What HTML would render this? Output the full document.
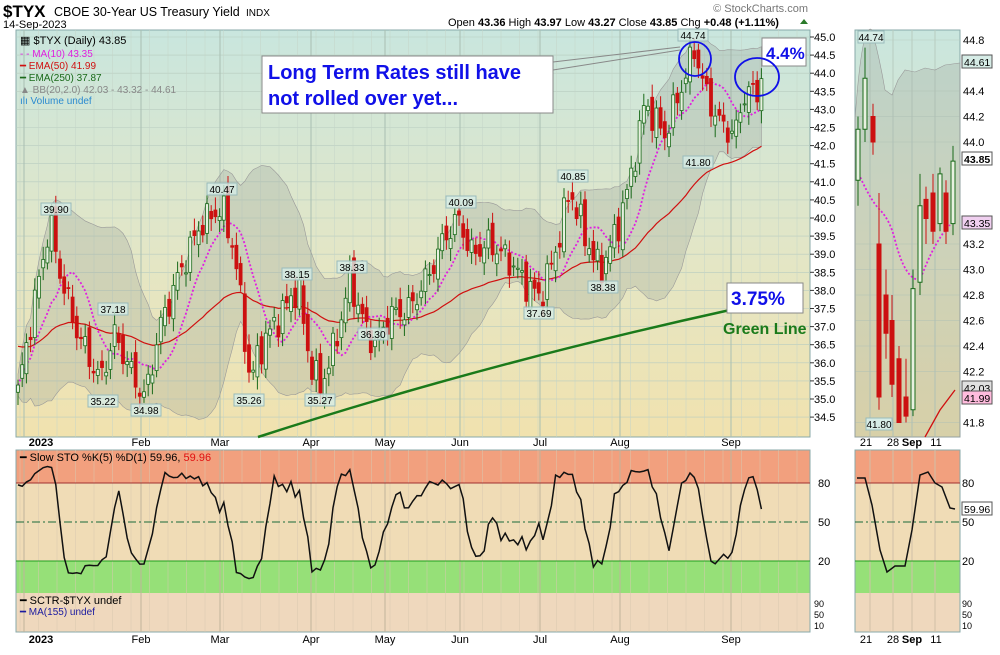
<!DOCTYPE html>
<html><head><meta charset="utf-8"><style>
body{margin:0;background:#fff;width:1000px;height:650px;overflow:hidden;font-family:"Liberation Sans",sans-serif}
svg text{font-family:"Liberation Sans",sans-serif}
</style></head><body>
<svg id="s" width="1000" height="650" xmlns="http://www.w3.org/2000/svg">
<defs>
<linearGradient id="bg" x1="0" y1="0" x2="0" y2="1"><stop offset="0" stop-color="#c9e6de"/><stop offset="0.55" stop-color="#e3e6c6"/><stop offset="1" stop-color="#f1e2ae"/></linearGradient>
</defs>
<text x="3" y="17" font-size="17" font-weight="bold">$TYX</text>
<text x="54" y="16" font-size="12.5">CBOE 30-Year US Treasury Yield</text>
<text x="246" y="16" font-size="10">INDX</text>
<text x="3" y="28" font-size="11">14-Sep-2023</text>
<text x="808" y="12" font-size="11" fill="#777" text-anchor="end">© StockCharts.com</text>
<text x="448" y="26" font-size="11">Open <tspan font-weight="bold">43.36</tspan>  High <tspan font-weight="bold">43.97</tspan>  Low <tspan font-weight="bold">43.27</tspan>  Close <tspan font-weight="bold">43.85</tspan>  Chg <tspan font-weight="bold">+0.48 (+1.11%)</tspan></text>
<polygon points="800,24 804,19 808,24" fill="#2a7a2a"/>
<rect x="16" y="30" width="794" height="407" fill="url(#bg)" stroke="#8aa" />
<rect x="855" y="30" width="105" height="407" fill="url(#bg)" stroke="#8aa"/>
<rect x="16" y="450" width="794" height="33" fill="#f2a07e"/>
<rect x="16" y="483" width="794" height="78" fill="#f0dcb6"/>
<rect x="16" y="561" width="794" height="32" fill="#96e078"/>
<rect x="16" y="593" width="794" height="39" fill="#efd8bd"/>
<rect x="16" y="450" width="794" height="182" fill="none" stroke="#8aa"/>
<rect x="855" y="450" width="105" height="33" fill="#f2a07e"/>
<rect x="855" y="483" width="105" height="78" fill="#f0dcb6"/>
<rect x="855" y="561" width="105" height="32" fill="#96e078"/>
<rect x="855" y="593" width="105" height="39" fill="#efd8bd"/>
<rect x="855" y="450" width="105" height="182" fill="none" stroke="#8aa"/>
<g id="g"></g>
</svg>
<script>
const S=document.getElementById('g');let h='';
const Y=v=>37+(45-v)*36.2;
const kp=[[18,35.2],[30,37],[50,39.9],[60,38.5],[75,37],[100,35.5],[115,36.8],[130,35.8],[145,35],[160,37],[180,38.5],[200,39.8],[222,40.3],[235,39],[250,35.5],[262,36.5],[280,37.3],[298,38.1],[310,36],[320,35.3],[335,36.5],[350,38.3],[365,37],[375,36.5],[390,37.3],[410,37.5],[430,38.5],[445,39.5],[460,40],[470,39],[490,39.3],[510,38.8],[525,38.2],[540,37.8],[555,39],[570,40.8],[585,39.5],[600,38.5],[615,39.5],[630,41],[645,43.2],[655,42.7],[665,42.3],[680,43.5],[695,44.7],[705,43.5],[720,42.6],[735,42.3],[745,43.5],[760,43.4],[765,43.85]];
function ip(x){for(let i=1;i<kp.length;i++)if(x<=kp[i][0]){const a=kp[i-1],b=kp[i];return a[1]+(b[1]-a[1])*(x-a[0])/(b[0]-a[0]);}return 43.85;}
for(let v=34.5;v<=45;v+=0.5){h+=`<line x1="16" x2="810" y1="${Y(v)}" y2="${Y(v)}" stroke="#b8ccc0" stroke-width="0.6"/><line x1="810" x2="814" y1="${Y(v)}" y2="${Y(v)}" stroke="#333"/><text x="814" y="${Y(v)+4}" font-size="11">${v.toFixed(1)}</text>`;}
const months=[[41,'2023'],[141,'Feb'],[220,'Mar'],[311,'Apr'],[385,'May'],[460,'Jun'],[540,'Jul'],[620,'Aug'],[731,'Sep']];
for(let x=20;x<810;x+=18.5){h+=`<line x1="${x}" x2="${x}" y1="30" y2="437" stroke="#c4d4c8" stroke-width="0.5"/><line x1="${x}" x2="${x}" y1="450" y2="632" stroke="#d8c8b0" stroke-width="0.5"/>`;}
months.forEach(([x,t],i)=>{const lx=i?x:24;h+=`<line x1="${lx}" x2="${lx}" y1="30" y2="437" stroke="#a9bfb2" stroke-width="1"/><line x1="${lx}" x2="${lx}" y1="450" y2="632" stroke="#c0b49c"/>`;
[446,643].forEach(y=>h+=`<text x="${x}" y="${y}" font-size="11" text-anchor="middle" font-weight="${i?'normal':'bold'}">${t}</text>`);});
const C=[],O=[],H=[],L=[],X=[];let n=0;
for(let x=18;x<=765;x+=4.2){X.push(x);let v=ip(x)+0.3*Math.sin(n*1.7)+0.22*Math.sin(n*3.1+1);if(x>760)v=43.85;C.push(v);n++;}
for(let i=0;i<n;i++){O[i]=i?C[i-1]+0.25*Math.sin(i*2.3):C[i]-0.2;H[i]=Math.max(O[i],C[i])+0.15+0.2*Math.abs(Math.sin(i*1.3));L[i]=Math.min(O[i],C[i])-0.15-0.2*Math.abs(Math.cos(i*1.1));}
let up=[],lo=[],ma=[],e50=[];let e=36.5;
for(let i=0;i<n;i++){const a=C.slice(Math.max(0,i-19),i+1);const m=a.reduce((p,q)=>p+q)/a.length;const sd=Math.sqrt(a.reduce((p,q)=>p+(q-m)**2,0)/a.length);up.push(m+1.6*sd+0.3);lo.push(m-1.6*sd-0.3);
const b=C.slice(Math.max(0,i-9),i+1);ma.push(b.reduce((p,q)=>p+q)/b.length);e=e+(C[i]-e)*2/51;e50.push(e);}
let bp=X.map((x,i)=>`${x},${Y(up[i])}`).join(' ')+' '+X.map((x,i)=>`${x},${Y(lo[i])}`).reverse().join(' ');
h+=`<polygon points="${bp}" fill="#9aa59a" fill-opacity="0.3" stroke="#999" stroke-width="0.6"/>`;
h+=`<polyline points="${X.map((x,i)=>x+','+Y(e50[i])).join(' ')}" fill="none" stroke="#d01010" stroke-width="1.2"/>`;
h+=`<path d="M258,437 Q480,365 730,310" fill="none" stroke="#1a7a1a" stroke-width="2.5"/>`;
h+=`<polyline points="${X.map((x,i)=>x+','+Y(ma[i])).join(' ')}" fill="none" stroke="#e020e0" stroke-width="1.8" stroke-dasharray="2,2"/>`;
for(let i=0;i<n;i++){const x=X[i],g=C[i]>=O[i],col=g?'#1a6a1a':'#cc1010';const t=Y(Math.max(O[i],C[i])),b=Y(Math.min(O[i],C[i]));
h+=`<line x1="${x}" x2="${x}" y1="${Y(H[i])}" y2="${Y(L[i])}" stroke="${col}"/><rect x="${x-1.5}" y="${t}" width="3" height="${Math.max(1,b-t)}" fill="${g?'#e8f0e0':col}" stroke="${col}" stroke-width="0.8"/>`;}
[[56,212,'39.90'],[113,312,'37.18'],[103,404,'35.22'],[146,413,'34.98'],[222,192,'40.47'],[297,277,'38.15'],[249,403,'35.26'],[320,403,'35.27'],[352,270,'38.33'],[373,337,'36.30'],[461,205,'40.09'],[573,179,'40.85'],[539,316,'37.69'],[603,290,'38.38'],[693,38,'44.74'],[698,165,'41.80']].forEach(([x,y,t])=>h+=`<rect x="${x-15}" y="${y-9}" width="30" height="12" fill="#d6ece6" fill-opacity="0.8" stroke="#9bb"/><text x="${x}" y="${y+1}" font-size="10" text-anchor="middle">${t}</text>`);
h+=`<text x="20" y="44" font-size="11">&#9638; $TYX (Daily) 43.85</text><text x="20" y="57" font-size="10" fill="#e020e0">- - MA(10) 43.35</text><text x="20" y="69" font-size="10" fill="#d01010">━ EMA(50) 41.99</text><text x="20" y="81" font-size="10" fill="#1a6a1a">━ EMA(250) 37.87</text><text x="20" y="93" font-size="10" fill="#888">▲ BB(20,2.0) 42.03 - 43.32 - 44.61</text><text x="20" y="104" font-size="10" fill="#2a8ad0">ılı Volume undef</text>`;
h+=`<line x1="553" y1="62" x2="680" y2="47" stroke="#888"/><line x1="553" y1="70" x2="680" y2="50" stroke="#888"/>`;
h+=`<rect x="262" y="56" width="291" height="57" fill="#fff" stroke="#888"/><text x="268" y="79" font-size="20" font-weight="bold" fill="#1010e8">Long Term Rates still have</text><text x="268" y="105" font-size="20" font-weight="bold" fill="#1010e8">not rolled over yet...</text>`;
h+=`<rect x="762" y="38" width="44" height="28" fill="#fff" stroke="#888"/><text x="766" y="59" font-size="17" font-weight="bold" fill="#1010e8">4.4%</text>`;
h+=`<rect x="727" y="283" width="76" height="30" fill="#fff" stroke="#888"/><text x="731" y="305" font-size="19" font-weight="bold" fill="#1010e8">3.75%</text><text x="723" y="334" font-size="16" font-weight="bold" fill="#1a7a1a">Green Line</text>`;
h+=`<ellipse cx="695" cy="59" rx="16" ry="17" fill="none" stroke="#1010e8" stroke-width="1.8"/><ellipse cx="757" cy="77" rx="22" ry="19" fill="none" stroke="#1010e8" stroke-width="1.8"/>`;
let st=[];for(let i=0;i<n;i++){const a=Math.max(0,i-4);const hh=Math.max(...H.slice(a,i+1)),ll=Math.min(...L.slice(a,i+1));st.push(100*(C[i]-ll)/(hh-ll));}
let ss=st.map((v,i)=>{const a=st.slice(Math.max(0,i-2),i+1);return a.reduce((p,q)=>p+q)/a.length;});ss[n-1]=59.96;
const SY=v=>587-v*1.3;
h+=`<line x1="16" x2="810" y1="483" y2="483" stroke="#a03030"/><line x1="16" x2="810" y1="561" y2="561" stroke="#20a020"/><line x1="16" x2="810" y1="522" y2="522" stroke="#1a6a3a" stroke-dasharray="8,3,2,3"/>`;
h+=`<polyline points="${X.map((x,i)=>x+','+SY(ss[i])).join(' ')}" fill="none" stroke="#111" stroke-width="1.5"/>`;
[[80,487],[50,526],[20,565]].forEach(([t,y])=>h+=`<text x="818" y="${y}" font-size="11">${t}</text><text x="962" y="${y}" font-size="11">${t}</text>`);
[[90,607],[50,618],[10,629]].forEach(([t,y])=>h+=`<text x="814" y="${y}" font-size="9">${t}</text><text x="962" y="${y}" font-size="9">${t}</text>`);
h+=`<text x="20" y="461" font-size="11">━ Slow STO %K(5) %D(1) 59.96, <tspan fill="#e01010">59.96</tspan></text><text x="20" y="604" font-size="11">━ SCTR-$TYX undef</text><text x="20" y="615" font-size="10" fill="#1a1aa0">━ MA(155) undef</text>`;
const RY=v=>40+(44.8-v)*127.5;
[44.8,44.4,44.2,44.0,43.2,43.0,42.8,42.6,42.4,42.2,41.8].forEach(v=>h+=`<line x1="855" x2="960" y1="${RY(v)}" y2="${RY(v)}" stroke="#b8ccc0" stroke-width="0.6"/><text x="963" y="${RY(v)+4}" font-size="11">${v.toFixed(1)}</text>`);
[870,893,912,935].forEach(x=>h+=`<line x1="${x}" x2="${x}" y1="30" y2="437" stroke="#b8ccc0"/><line x1="${x}" x2="${x}" y1="450" y2="632" stroke="#d0c0a8"/>`);
[[866,'21'],[893,'28'],[912,'Sep'],[936,'11']].forEach(([x,t])=>[446,643].forEach(y=>h+=`<text x="${x}" y="${y}" font-size="11" text-anchor="middle" font-weight="${t=='Sep'?'bold':'normal'}">${t}</text>`));
h+=`<path d="M855,120 Q862,20 872,30 Q880,60 885,90 L892,95 L898,80 L905,70 L915,72 L925,68 L935,70 L945,65 L960,63 L960,437 L855,437Z" fill="#9aa59a" fill-opacity="0.3" stroke="#999" stroke-width="0.6"/>`;
h+=`<path d="M857,170 Q870,200 880,210 Q890,220 895,240 Q905,280 920,280 Q935,240 950,225" fill="none" stroke="#e020e0" stroke-width="1.8" stroke-dasharray="2,2"/><path d="M925,437 L940,410 L955,390" fill="none" stroke="#d01010" stroke-width="1.3"/>`;
const rc=[[858,44.1,43.7,44.2,43.5,1],[865,44.5,44.1,44.74,44.0,1],[873,44.2,44.0,44.3,43.9,0],[879,43.2,42.0,43.6,41.9,0],[886,42.8,42.5,43.0,42.3,0],[892,42.6,42.1,42.8,42.0,0],[899,42.3,41.8,42.4,41.8,0],[906,42.0,41.85,42.3,41.8,0],[913,42.85,41.9,43.0,41.85,1],[920,43.5,42.9,43.75,42.8,1],[926,43.55,43.4,43.65,43.2,0],[933,43.6,43.3,43.75,43.2,0],[940,43.75,43.36,43.8,43.3,1],[946,43.6,43.3,43.7,43.2,0],[953,43.85,43.36,43.97,43.27,1]];
rc.forEach(([x,a,b,hi,lw,g])=>{const col=g?'#1a6a1a':'#cc1010';h+=`<line x1="${x}" x2="${x}" y1="${RY(hi)}" y2="${RY(lw)}" stroke="${col}"/><rect x="${x-2}" y="${RY(a)}" width="4" height="${Math.max(1,RY(b)-RY(a))}" fill="${g?'#e8f0e0':col}" stroke="${col}"/>`;});
h+=`<rect x="858" y="31" width="26" height="12" fill="#d6ece6" stroke="#9bb"/><text x="871" y="41" font-size="10" text-anchor="middle">44.74</text><rect x="866" y="418" width="26" height="12" fill="#d6ece6" stroke="#9bb"/><text x="879" y="428" font-size="10" text-anchor="middle">41.80</text>`;
[[62,'44.61','#d6ece6'],[159,'43.85','#fff'],[223,'43.35','#f0d0f0'],[388,'42.03','#e0e0e0'],[398,'41.99','#fbd']].forEach(([y,t,c])=>h+=`<rect x="962" y="${y-7}" width="30" height="13" fill="${c}" stroke="#555"/><text x="964" y="${y+4}" font-size="10.5" font-weight="${t=='43.85'?'bold':'normal'}">${t}</text>`);
h+=`<line x1="855" x2="960" y1="483" y2="483" stroke="#a03030"/><line x1="855" x2="960" y1="561" y2="561" stroke="#20a020"/><line x1="855" x2="960" y1="522" y2="522" stroke="#1a6a3a" stroke-dasharray="8,3,2,3"/>`;
h+=`<polyline points="857,478 865,478 872,505 880,550 887,572 895,566 905,566 912,530 920,475 928,472 935,483 942,487 950,508 955,509" fill="none" stroke="#111" stroke-width="1.5"/><rect x="962" y="502" width="30" height="13" fill="#fff" stroke="#555"/><text x="964" y="513" font-size="10.5">59.96</text>`;
S.innerHTML=h;
</script>
</body></html>
